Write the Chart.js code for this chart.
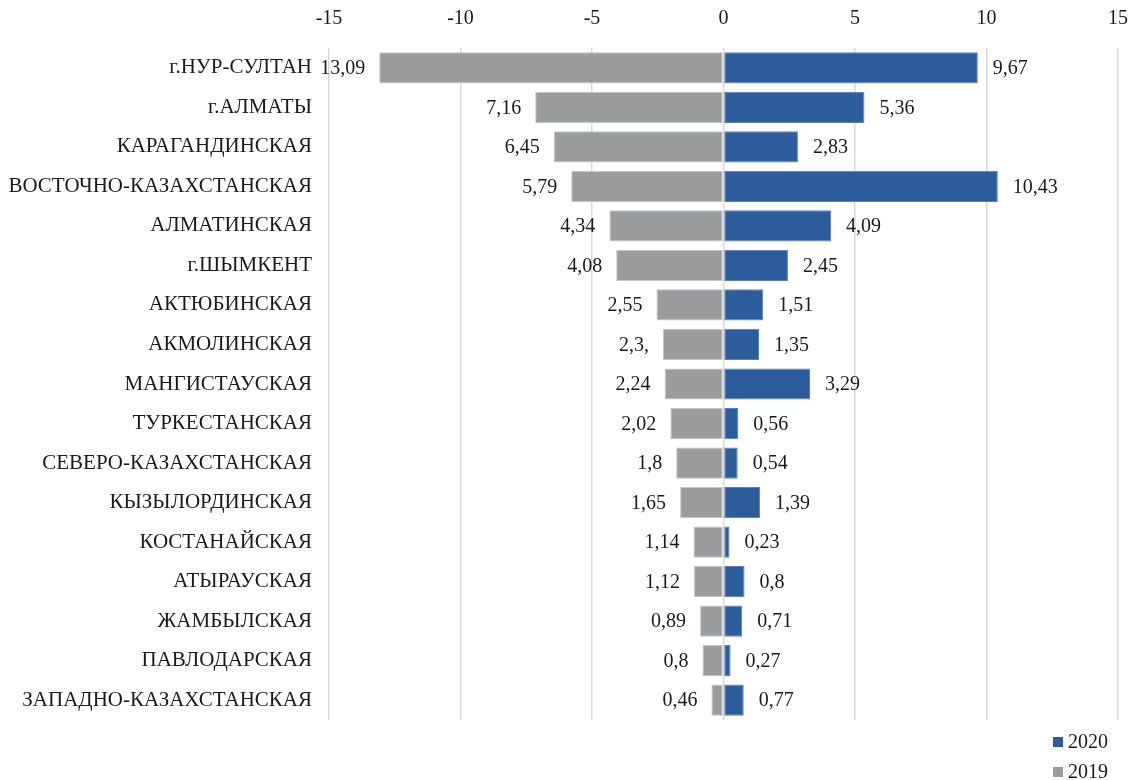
<!DOCTYPE html>
<html>
<head>
<meta charset="utf-8">
<script src="https://cdn.jsdelivr.net/npm/chart.js@4.4.1/dist/chart.umd.min.js"></script>
<style>
  html, body { margin: 0; padding: 0; background: #ffffff; }
  #wrap { width: 1131px; height: 780px; }
</style>
</head>
<body>
<div id="wrap"><canvas id="chart" width="1131" height="780"></canvas></div>
<script>
// Regions, top to bottom
const regions = [
  'г.НУР-СУЛТАН', 'г.АЛМАТЫ', 'КАРАГАНДИНСКАЯ', 'ВОСТОЧНО-КАЗАХСТАНСКАЯ',
  'АЛМАТИНСКАЯ', 'г.ШЫМКЕНТ', 'АКТЮБИНСКАЯ', 'АКМОЛИНСКАЯ', 'МАНГИСТАУСКАЯ',
  'ТУРКЕСТАНСКАЯ', 'СЕВЕРО-КАЗАХСТАНСКАЯ', 'КЫЗЫЛОРДИНСКАЯ', 'КОСТАНАЙСКАЯ',
  'АТЫРАУСКАЯ', 'ЖАМБЫЛСКАЯ', 'ПАВЛОДАРСКАЯ', 'ЗАПАДНО-КАЗАХСТАНСКАЯ'
];

// 2019 values are plotted to the left of zero
const values2019 = [-13.09, -7.16, -6.45, -5.79, -4.34, -4.08, -2.55, -2.3, -2.24,
                    -2.02, -1.8, -1.65, -1.14, -1.12, -0.89, -0.8, -0.46];
const labels2019 = ['13,09', '7,16', '6,45', '5,79', '4,34', '4,08', '2,55', '2,3,', '2,24',
                    '2,02', '1,8', '1,65', '1,14', '1,12', '0,89', '0,8', '0,46'];

const values2020 = [9.67, 5.36, 2.83, 10.43, 4.09, 2.45, 1.51, 1.35, 3.29,
                    0.56, 0.54, 1.39, 0.23, 0.8, 0.71, 0.27, 0.77];

const axisTicks = [-15, -10, -5, 0, 5, 10, 15];

const SERIF = '"Liberation Serif", "Times New Roman", serif';
const TEXT = '#1a1a1a';
const FONT_SIZE = 20;

function commaNum(v) {
  return String(Math.abs(v)).replace('.', ',');
}

// Value captions beside each bar end
const barLabels = {
  id: 'barLabels',
  afterDatasetsDraw(chart) {
    const ctx = chart.ctx;
    ctx.save();
    ctx.font = FONT_SIZE + 'px ' + SERIF;
    ctx.fillStyle = TEXT;
    ctx.textBaseline = 'middle';
    chart.data.datasets.forEach((ds, di) => {
      const meta = chart.getDatasetMeta(di);
      meta.data.forEach((bar, i) => {
        const v = ds.data[i];
        const text = ds.valueText ? ds.valueText[i] : commaNum(v);
        if (v < 0) {
          ctx.textAlign = 'right';
          ctx.fillText(text, bar.x - 14, bar.y + 1);
        } else {
          ctx.textAlign = 'left';
          ctx.fillText(text, bar.x + 15, bar.y + 1);
        }
      });
    });
    ctx.restore();
  }
};

// Vertical legend in the lower right corner
const cornerLegend = {
  id: 'cornerLegend',
  afterDraw(chart) {
    const ctx = chart.ctx;
    ctx.save();
    ctx.font = FONT_SIZE + 'px ' + SERIF;
    ctx.textBaseline = 'middle';
    ctx.textAlign = 'left';
    const x = 1053, y0 = 742, step = 30;
    chart.data.datasets.forEach((ds, i) => {
      const y = y0 + i * step;
      ctx.fillStyle = ds.backgroundColor;
      ctx.fillRect(x, y - 5, 10, 10);
      ctx.fillStyle = TEXT;
      ctx.fillText(ds.label, x + 15, y + 1);
    });
    ctx.restore();
  }
};

new Chart(document.getElementById('chart'), {
  type: 'bar',
  data: {
    labels: regions,
    datasets: [
      {
        label: '2020',
        data: values2020,
        backgroundColor: '#2c5c9b',
        borderColor: '#5a80b6',
        borderWidth: 1,
        borderSkipped: false,
        barPercentage: 0.79,
        categoryPercentage: 1
      },
      {
        label: '2019',
        data: values2019,
        valueText: labels2019,
        backgroundColor: '#9a9c9d',
        borderColor: '#c4c5c6',
        borderWidth: 1,
        borderSkipped: false,
        barPercentage: 0.79,
        categoryPercentage: 1
      }
    ]
  },
  options: {
    indexAxis: 'y',
    responsive: false,
    animation: false,
    layout: { padding: { left: 8, right: 13, top: 0, bottom: 60 } },
    plugins: {
      legend: { display: false },
      tooltip: { enabled: false }
    },
    scales: {
      x: {
        position: 'top',
        stacked: true,
        min: -15,
        max: 15,
        afterBuildTicks(scale) {
          scale.ticks = axisTicks.map(v => ({ value: v }));
        },
        afterFit(scale) {
          scale.height = 48;
          scale.paddingLeft = 0;
          scale.paddingRight = 0;
        },
        border: { display: false },
        grid: { color: '#d9d9d9', lineWidth: 1.5, drawTicks: false },
        ticks: {
          padding: 17,
          color: TEXT,
          font: { family: SERIF, size: FONT_SIZE },
          callback: v => String(v)
        }
      },
      y: {
        stacked: true,
        afterFit(scale) { scale.width = 321; },
        border: { display: false },
        grid: { display: false, drawTicks: false },
        ticks: {
          padding: 17,
          color: TEXT,
          font: { family: SERIF, size: 21 }
        }
      }
    }
  },
  plugins: [barLabels, cornerLegend]
});
</script>
</body>
</html>
